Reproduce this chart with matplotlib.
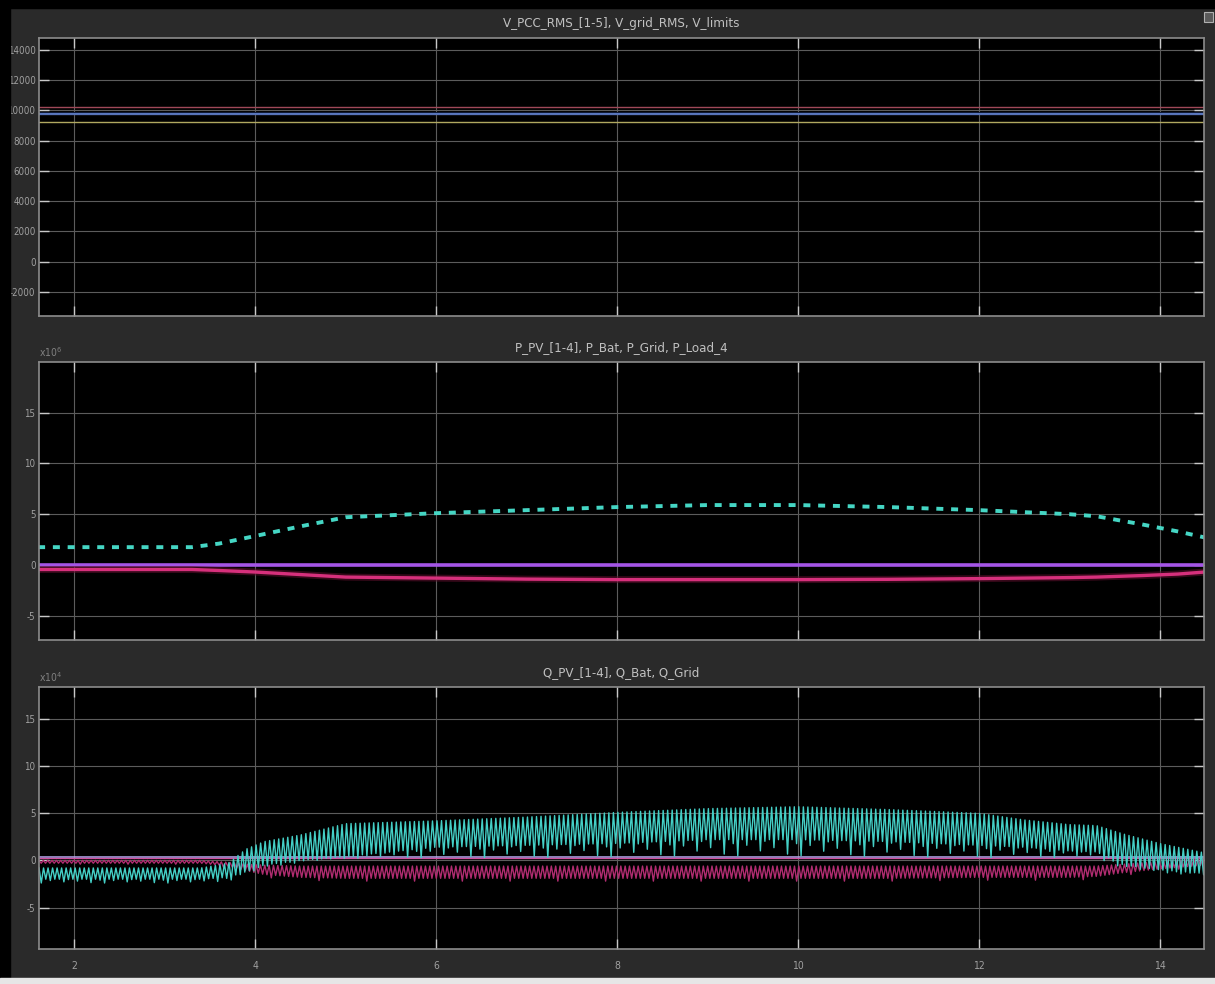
import numpy as np
import matplotlib
matplotlib.use('Agg')
import matplotlib.pyplot as plt
from matplotlib.patches import Rectangle

plt.rcParams['font.family'] = ['DejaVu Sans']
plt.rcParams['font.stretch'] = 'condensed'
plt.rcParams['axes.unicode_minus'] = False

# scope colours
BG = '#2a2a2a'
GRID = '#5c5c5c'
SPINE = '#8c8c8c'
TXT = '#a0a0a0'

t_start, t_end = 1.61, 14.49
x_ticks = [2, 4, 6, 8, 10, 12, 14]

# --- V_PCC_RMS [1-5], V_grid_RMS, V_limits (V) ---
v_t = [t_start, t_end]
v_pcc = [9800, 9808, 9815, 9822, 9830]
v_grid = 9790
v_lim_hi = 10250
v_lim_lo = 9260

# --- powers (x1e6 W) ---
p_t = [1.6, 2.0, 3.3, 3.6, 4.0, 4.5, 5.0, 5.5, 6.0, 7.0, 8.0, 9.0, 10.0, 11.0,
       12.0, 12.5, 13.0, 13.3, 13.8, 14.2, 14.5]
p_grid = [1.75, 1.75, 1.75, 2.1, 2.85, 3.8, 4.7, 4.9, 5.1, 5.4, 5.7, 5.9, 5.9, 5.7,
          5.4, 5.2, 5.0, 4.8, 4.0, 3.3, 2.7]
p_pv = [-0.45, -0.45, -0.45, -0.55, -0.7, -0.95, -1.2, -1.25, -1.3, -1.4, -1.45, -1.45,
        -1.45, -1.42, -1.35, -1.3, -1.25, -1.2, -1.05, -0.9, -0.7]
p_bat = -0.02

# --- reactive powers (x1e4 var), envelopes of the ripple ---
q_t = [1.6, 2.5, 3.4, 3.7, 3.9, 4.1, 4.5, 5.0, 6.0, 7.0, 8.0, 9.0, 10.0, 11.0,
       12.0, 12.5, 13.0, 13.3, 13.6, 14.0, 14.5]
q_grid_hi = [-0.8, -0.8, -0.8, -0.3, 1.2, 2.0, 2.7, 3.9, 4.2, 4.6, 5.1, 5.5, 5.7, 5.4,
             5.0, 4.3, 3.8, 3.7, 2.8, 1.8, 0.8]
q_grid_lo = [-2.0, -2.0, -2.0, -1.8, -1.2, -0.5, 0.0, 0.4, 1.4, 1.6, 1.8, 2.2, 2.2, 2.0,
             1.6, 1.4, 1.0, 0.9, -0.5, -1.0, -1.4]
q_grid_dip = [-2.4, -2.4, -2.4, -2.2, -1.5, -0.8, -0.2, 0.2, 0.3, 0.3, 0.4, 0.5, 0.5, 0.4,
              0.3, 0.3, 0.3, 0.2, -0.8, -1.3, -1.6]
# how far each trough drops toward the dip envelope (repeats along the trace)
dip_weights = [1.0, 0.0, 0.35, 0.0, 0.0, 0.7, 0.1, 0.0, 0.5, 0.0, 0.0, 0.9, 0.0, 0.25]
q_pv_hi = [0.0, 0.0, 0.0, -0.2, -0.4, -0.5, -0.6, -0.6, -0.6, -0.6, -0.6, -0.6, -0.6, -0.6,
           -0.6, -0.6, -0.6, -0.6, -0.4, -0.1, 0.2]
q_pv_lo = [-0.3, -0.3, -0.3, -0.6, -1.1, -1.5, -1.8, -1.9, -1.9, -1.9, -1.9, -1.9, -1.9, -1.9,
           -1.8, -1.8, -1.8, -1.7, -1.3, -0.9, -0.5]
q_pv_dip = [-0.4, -0.4, -0.4, -0.8, -1.4, -1.8, -2.1, -2.2, -2.2, -2.2, -2.2, -2.2, -2.2, -2.2,
            -2.1, -2.1, -2.1, -2.0, -1.6, -1.1, -0.7]
pv_weights = [0.0, 0.0, 0.0, 0.0, 0.0, 0.0, 0.0, 0.0, 0.0, 1.0, 0.0]
q_bat = 0.38
q_pv_ref = 0.3


def ripple(knots, hi, lo, period, dip=None, weights=None):
    # step between the upper and lower envelope every half period
    t = np.arange(t_start, t_end + period, period / 2)
    up = np.interp(t, knots, hi)
    dn = np.interp(t, knots, lo)
    if dip is not None:
        deep = np.interp(t, knots, dip)
        w = np.array(weights)[(np.arange(len(t)) // 2) % len(weights)]
        dn = dn + w * (deep - dn)
    y = np.where(np.arange(len(t)) % 2 == 0, up, dn)
    return t, y


def style(ax, yticks, ylim, show_x=False):
    ax.set_facecolor('black')
    ax.set_xlim(t_start, t_end)
    ax.set_ylim(*ylim)
    ax.set_xticks(x_ticks)
    ax.set_yticks(yticks)
    ax.grid(True, color=GRID, lw=0.8)
    ax.set_axisbelow(True)
    for s in ax.spines.values():
        s.set_color(SPINE)
        s.set_linewidth(1.2)
    ax.tick_params(direction='in', length=7, width=1, colors='#c8c8c8',
                   labelcolor=TXT, labelsize=7, right=True, top=True)
    ax.tick_params(axis='y', pad=2.5)
    ax.tick_params(axis='x', pad=9, labelsize=7.5)
    if not show_x:
        ax.tick_params(labelbottom=False)


fig = plt.figure(figsize=(12.15, 9.84), dpi=100, facecolor=BG)

# top panel: voltages
ax1 = fig.add_axes([0.0321, 0.6789, 0.9589, 0.2825])
style(ax1, range(-2000, 14001, 2000), (-3600, 14800))
ax1.axhspan(9700, 9900, color='#101a35', lw=0)
ax1.plot(v_t, [v_lim_hi] * 2, color='#a04858', lw=1)
ax1.plot(v_t, [v_grid] * 2, color='#4a5a90', lw=1)
for v in v_pcc:
    ax1.plot(v_t, [v] * 2, color='#5a78c0', lw=0.6)
ax1.plot(v_t, [v_lim_lo] * 2, color='#b0a860', lw=1)
ax1.set_title('V_PCC_RMS_[1-5], V_grid_RMS, V_limits', color='#c0c0c0', fontsize=9.5, pad=8)

# middle panel: active power
ax2 = fig.add_axes([0.0321, 0.3496, 0.9589, 0.2825])
style(ax2, [-5, 0, 5, 10, 15], (-7.4, 20))
ax2.plot(p_t, [p_bat] * len(p_t), color='#a455e6', lw=2.6)
ax2.plot(p_t, p_pv, color='#5a0f2a', lw=5, alpha=0.6)
ax2.plot(p_t, p_pv, color='#d6307c', lw=2.4)
ax2.plot(p_t, p_grid, color='#45d6c4', lw=2.8, dashes=(1.8, 2.0))
ax2.set_title('P_PV_[1-4], P_Bat, P_Grid, P_Load_4', color='#c0c0c0', fontsize=9.5, pad=8)
ax2.text(0.0, 1.012, r'x10$^6$', transform=ax2.transAxes, color='#808080', fontsize=7.5,
         va='bottom', ha='left')

# bottom panel: reactive power
ax3 = fig.add_axes([0.0321, 0.0356, 0.9589, 0.2662])
style(ax3, [-5, 0, 5, 10, 15], (-9.4, 18.4), show_x=True)
ax3.plot([t_start, t_end], [q_bat] * 2, color='#b8a8f0', lw=1.1)
ax3.plot([t_start, t_end], [q_pv_ref] * 2, color='#d050a0', lw=0.9)
tq, yq = ripple(q_t, q_pv_hi, q_pv_lo, 0.048, dip=q_pv_dip, weights=pv_weights)
ax3.plot(tq, yq, color='#b02c70', lw=1)
tg, yg = ripple(q_t, q_grid_hi, q_grid_lo, 0.05, dip=q_grid_dip, weights=dip_weights)
ax3.plot(tg, yg, color='#44cfc6', lw=1)
ax3.set_title('Q_PV_[1-4], Q_Bat, Q_Grid', color='#c0c0c0', fontsize=9.5, pad=8)
ax3.text(0.0, 1.012, r'x10$^4$', transform=ax3.transAxes, color='#808080', fontsize=7.5,
         va='bottom', ha='left')

# window frame: black edges, white strip at the bottom, undock icon
W, H = 1215.0, 984.0
fig.patches.append(Rectangle((0, 0), 10 / W, 1, transform=fig.transFigure, color='black', zorder=5))
fig.patches.append(Rectangle((0, 1 - 8 / H), 1, 8 / H, transform=fig.transFigure, color='black', zorder=5))
fig.patches.append(Rectangle((0, 0), 1, 6 / H, transform=fig.transFigure, color='#e6e6e6', zorder=6))
fig.patches.append(Rectangle((1204 / W, 1 - 22 / H), 9 / W, 10 / H, transform=fig.transFigure,
                             facecolor='#5a5a5a', edgecolor='#b0b0b0', lw=0.8, zorder=5))

fig.savefig('out.png', dpi=100, facecolor=fig.get_facecolor())
